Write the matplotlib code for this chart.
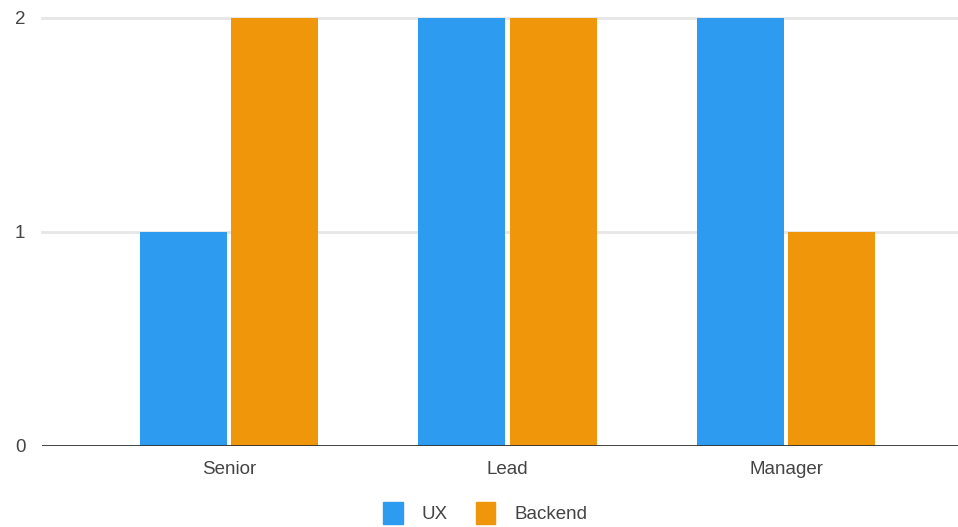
import numpy as np
import matplotlib
matplotlib.use("Agg")
import matplotlib.pyplot as plt
from matplotlib.patches import Patch

# chart data
categories = ["Senior", "Lead", "Manager"]
ux = [1, 2, 2]
backend = [2, 2, 1]
series_names = ["UX", "Backend"]
y_ticks = [0, 1, 2]

blue = "#2d9bef"
orange = "#f0960a"

plt.rcParams['font.family'] = ['Liberation Sans', 'DejaVu Sans']

fig = plt.figure(figsize=(9.58, 5.27), dpi=100)
ax = fig.add_axes([42 / 958, 81 / 527, 916 / 958, 428 / 527])

x = np.arange(len(categories))
width = 0.312
offset = 0.164
ax.bar(x - offset, ux, width, color=blue, zorder=3)
ax.bar(x + offset, backend, width, color=orange, zorder=3)

ax.set_xlim(-0.6715, 2.6176)
ax.set_ylim(0, 2)
ax.set_yticks(y_ticks)
ax.set_xticks(x)
ax.set_xticklabels(categories)

# light gridlines, dark baseline
for v in y_ticks[1:]:
    ax.axhline(v, color="#e6e6e6", lw=2, zorder=1, clip_on=False)
ax.axhline(0, color="#333333", lw=1.3, zorder=4)

for s in ax.spines.values():
    s.set_visible(False)
ax.tick_params(axis="both", length=0, labelsize=13.5, colors="#444444")
ax.tick_params(axis="x", pad=11)
ax.tick_params(axis="y", pad=12)

handles = [Patch(color=blue, label=series_names[0]),
           Patch(color=orange, label=series_names[1])]
fig.legend(handles=handles, loc="center", bbox_to_anchor=(485 / 958, 1 - 513 / 527),
           ncol=2, frameon=False, handlelength=1.05, handleheight=1.45,
           handletextpad=1.0, columnspacing=1.5, fontsize=13.5,
           labelcolor="#444444")

fig.savefig("out.png", dpi=100)
